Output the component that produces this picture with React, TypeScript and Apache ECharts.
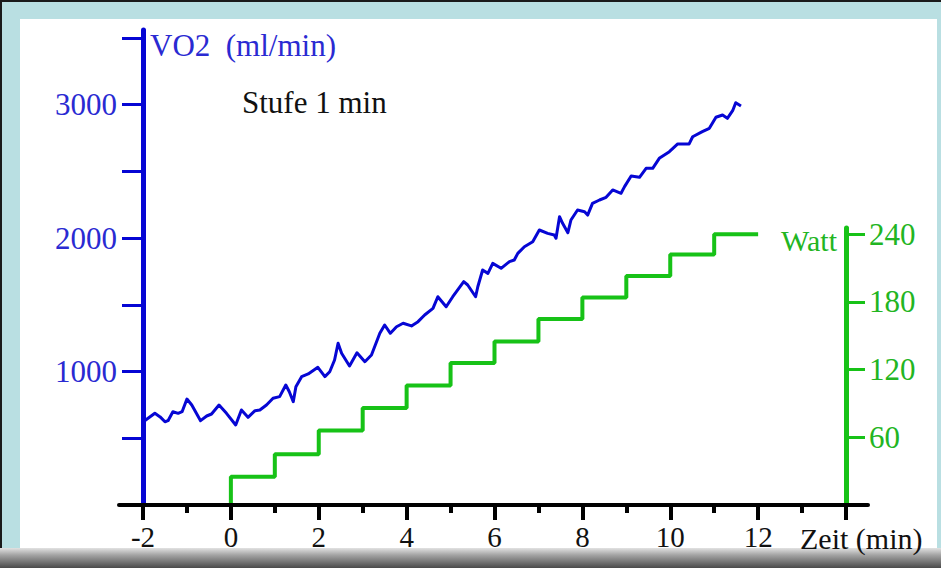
import React, { useEffect, useRef } from 'react';
import * as echarts from 'echarts';

// VO2 trace (time in minutes, VO2 in ml/min)
const timeMin = [
  -2.0, -1.73, -1.61, -1.5, -1.43, -1.32, -1.2, -1.11, -1.0, -0.89, -0.69, -0.55, -0.44, -0.27, -0.1,
  0.11, 0.24, 0.39, 0.55, 0.66, 0.81, 0.96, 1.11, 1.25, 1.33, 1.42, 1.48, 1.61, 1.76, 1.98,
  2.14, 2.25, 2.36, 2.44, 2.52, 2.7, 2.87, 3.05, 3.2, 3.39, 3.5, 3.63, 3.77, 3.92, 4.11,
  4.26, 4.41, 4.6, 4.71, 4.9, 5.05, 5.3, 5.39, 5.57, 5.62, 5.73, 5.85, 5.96, 6.15, 6.34,
  6.45, 6.53, 6.68, 6.87, 7.02, 7.21, 7.36, 7.4, 7.48, 7.55, 7.67, 7.74, 7.89, 8.05, 8.12,
  8.23, 8.39, 8.54, 8.69, 8.88, 8.96, 9.11, 9.3, 9.45, 9.6, 9.75, 9.98, 10.17, 10.43, 10.51,
  10.73, 10.89, 11.04, 11.19, 11.3, 11.42, 11.49, 11.61,
];
const vo2 = [
  622, 687, 660, 624, 632, 699, 687, 699, 794, 749, 632, 667, 682, 749, 687,
  600, 712, 657, 707, 712, 749, 800, 812, 899, 849, 774, 887, 962, 982, 1032,
  962, 999, 1087, 1212, 1137, 1042, 1141, 1074, 1124, 1287, 1349, 1287, 1336, 1362, 1342,
  1374, 1424, 1474, 1561, 1486, 1561, 1674, 1649, 1561, 1636, 1761, 1736, 1811, 1774, 1824,
  1836, 1886, 1936, 1973, 2061, 2036, 2024, 1999, 2161, 2111, 2041, 2136, 2211, 2198, 2173,
  2261, 2286, 2306, 2361, 2336, 2386, 2466, 2456, 2523, 2523, 2598, 2648, 2706, 2706, 2760,
  2798, 2823, 2906, 2923, 2898, 2955, 3015, 2990,
];

// Workload stages (start minute of each 1-min stage, watts)
const stageStart = [0, 1, 2, 3, 4, 5, 6, 7, 8, 9, 10, 11];
const watts = [25, 45, 66, 86, 106, 126, 145, 165, 184, 203, 222, 240];
const protocolEnd = 12;

// Axis ticks / labels
const vo2TickValues = [500, 1000, 1500, 2000, 2500, 3000, 3500];
const vo2LabelValues = [1000, 2000, 3000];
const wattTickValues = [60, 120, 180, 240];
const timeLabelValues = [-2, 0, 2, 4, 6, 8, 10, 12];

const SERIF = "'Liberation Serif', 'Times New Roman', Times, serif";
const BLUE = '#0606d4';
const BLUE_TEXT = '#2a2ad2';
const GREEN = '#17c217';
const GREEN_TEXT = '#22b522';
const TEAL = '#b9dfe2';

export default function App() {
  const ref = useRef<HTMLDivElement>(null);

  useEffect(() => {
    if (!ref.current) return;
    const chart = echarts.init(ref.current, null, { renderer: 'svg' });

    const n = Math.min(timeMin.length, vo2.length);
    const vo2Data: number[][] = [];
    for (let i = 0; i < n; i++) vo2Data.push([timeMin[i], vo2[i]]);

    const wattData: number[][] = [[stageStart[0], 0]];
    for (let i = 0; i < stageStart.length; i++) wattData.push([stageStart[i], watts[i]]);
    wattData.push([protocolEnd, watts[watts.length - 1]]);

    const textStyle = (color: string, size: number) => ({ fontSize: size, fontFamily: SERIF, color });

    chart.setOption({
      animation: false,
      graphic: {
        elements: [
          { type: 'rect', z: -20, silent: true, shape: { x: 0, y: 0, width: 941, height: 568 }, style: { fill: TEAL } },
          { type: 'rect', z: -19, silent: true, shape: { x: 0, y: 0, width: 941, height: 2 }, style: { fill: '#1a1a1a' } },
          { type: 'rect', z: -19, silent: true, shape: { x: 0, y: 0, width: 2, height: 568 }, style: { fill: '#1a1a1a' } },
          { type: 'rect', z: -18, silent: true, shape: { x: 20, y: 19, width: 917, height: 531 }, style: { fill: '#ffffff' } },
          {
            type: 'rect', z: -17, silent: true, shape: { x: 0, y: 548, width: 941, height: 20 },
            style: {
              fill: new echarts.graphic.LinearGradient(0, 0, 0, 1, [
                { offset: 0, color: '#e2e2e2' },
                { offset: 0.35, color: '#a4a4a4' },
                { offset: 1, color: '#4a4a4a' },
              ]),
            },
          },
          {
            type: 'text', z: 10, x: 150, y: 45,
            style: { text: 'VO2  (ml/min)', fill: BLUE_TEXT, font: `31px ${SERIF}`, verticalAlign: 'middle', align: 'left' },
          },
          {
            type: 'text', z: 10, x: 242, y: 102,
            style: { text: 'Stufe 1 min', fill: '#111', font: `31px ${SERIF}`, verticalAlign: 'middle', align: 'left' },
          },
          {
            type: 'text', z: 10, x: 837, y: 240,
            style: { text: 'Watt', fill: GREEN_TEXT, font: `30px ${SERIF}`, verticalAlign: 'middle', align: 'right' },
          },
          {
            type: 'text', z: 10, x: 800, y: 538,
            style: { text: 'Zeit (min)', fill: '#111', font: `30px ${SERIF}`, verticalAlign: 'middle', align: 'left' },
          },
        ],
      },
      grid: [
        { left: 143, right: 95, top: 30, bottom: 63, containLabel: false, outerBoundsMode: 'none' },
        { left: 143, right: 95, top: 228, bottom: 63, containLabel: false, outerBoundsMode: 'none' },
        { left: 119, right: 73, top: 30, bottom: 63, containLabel: false, outerBoundsMode: 'none' },
      ],
      xAxis: [
        {
          gridIndex: 0, type: 'value', min: -2, max: 14, interval: 2, z: 6,
          axisLine: { show: true, onZero: false, lineStyle: { color: '#000', width: 4 } },
          axisTick: { show: true, length: 15, lineStyle: { color: '#000', width: 4 } },
          minorTick: { show: true, splitNumber: 2, length: 8, lineStyle: { color: '#000', width: 4 } },
          splitLine: { show: false },
          minorSplitLine: { show: false },
          axisLabel: {
            ...textStyle('#111', 29),
            margin: 17,
            customValues: timeLabelValues,
            formatter: (v: number) => (timeLabelValues.indexOf(v) >= 0 ? String(v) : ''),
          },
        },
        { gridIndex: 1, type: 'value', min: -2, max: 14, show: false },
        {
          gridIndex: 2, type: 'value', min: 0, max: 1, z: 6,
          axisLine: { show: true, onZero: false, lineStyle: { color: '#000', width: 4 } },
          axisTick: { show: false }, axisLabel: { show: false }, splitLine: { show: false },
        },
      ],
      yAxis: [
        {
          gridIndex: 0, type: 'value', min: 0, max: 3560, interval: 500, position: 'left', z: 4,
          axisLine: { show: true, onZero: false, lineStyle: { color: BLUE, width: 5 } },
          axisTick: { show: true, length: 21, customValues: vo2TickValues, lineStyle: { color: BLUE, width: 3 } },
          axisLabel: {
            ...textStyle(BLUE_TEXT, 31), margin: 26, customValues: vo2LabelValues,
            formatter: (v: number) => (vo2LabelValues.indexOf(v) >= 0 ? String(v) : ''),
          },
          splitLine: { show: false },
        },
        {
          gridIndex: 1, type: 'value', min: 0, max: 245.6, interval: 60, position: 'right', z: 4,
          axisLine: { show: true, onZero: false, lineStyle: { color: GREEN, width: 5 } },
          axisTick: { show: true, length: 19, customValues: wattTickValues, lineStyle: { color: GREEN, width: 3 } },
          axisLabel: {
            ...textStyle(GREEN_TEXT, 31), margin: 23, customValues: wattTickValues,
            formatter: (v: number) => (wattTickValues.indexOf(v) >= 0 ? String(v) : ''),
          },
          splitLine: { show: false },
        },
        { gridIndex: 2, type: 'value', min: 0, max: 1, show: false },
      ],
      series: [
        {
          name: 'VO2', type: 'line', xAxisIndex: 0, yAxisIndex: 0, data: vo2Data,
          symbol: 'none', showSymbol: false, z: 3,
          lineStyle: { color: BLUE, width: 3, join: 'round' },
        },
        {
          name: 'Watt', type: 'line', xAxisIndex: 1, yAxisIndex: 1, data: wattData, step: 'end',
          symbol: 'none', showSymbol: false, z: 3,
          lineStyle: { color: GREEN, width: 4 },
        },
      ],
    });

    return () => chart.dispose();
  }, []);

  return (
    <div
      ref={ref}
      style={{ position: 'absolute', left: 0, top: 0, width: 941, height: 568 }}
    />
  );
}
